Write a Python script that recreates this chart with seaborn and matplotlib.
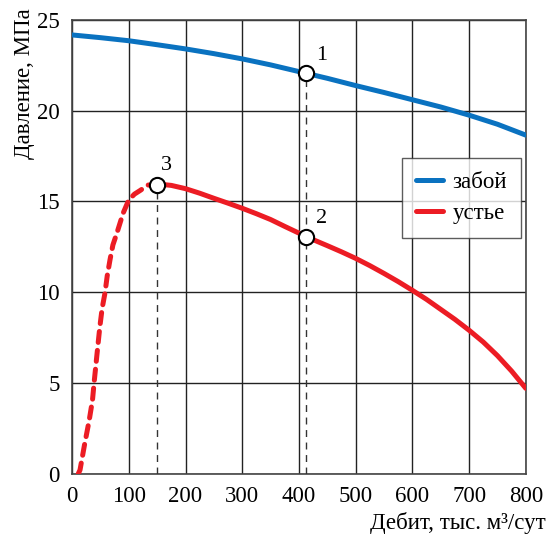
import matplotlib
matplotlib.use("Agg")
import matplotlib.pyplot as plt
import seaborn as sns
import pandas as pd

# Забой (bottom-hole pressure)
zaboy_q = [0, 50, 100, 150, 200, 250, 300, 350, 400, 450, 500, 550, 600, 650, 700, 750, 800]
zaboy_p = [24.17, 24.02, 23.85, 23.63, 23.4, 23.14, 22.85, 22.52, 22.15, 21.78, 21.38,
           21.0, 20.6, 20.2, 19.75, 19.25, 18.65]

# Устье (wellhead), solid part
ustye_q = [149, 160, 175, 200, 225, 250, 275, 300, 325, 350, 375, 400, 413, 450, 475, 500,
           525, 550, 575, 600, 625, 650, 675, 700, 725, 750, 775, 800]
ustye_p = [15.9, 15.93, 15.88, 15.7, 15.45, 15.17, 14.9, 14.62, 14.32, 14.0, 13.62, 13.25,
           13.05, 12.56, 12.22, 11.86, 11.46, 11.03, 10.58, 10.1, 9.6, 9.05, 8.5, 7.9, 7.25,
           6.5, 5.65, 4.7]

# Устье, unstable (dashed) part
unst_q = [11, 14, 22, 30, 36, 39, 44, 49, 53, 58, 62, 67, 72, 79, 85, 90, 100, 110, 120, 134, 149]
unst_p = [0.0, 0.2, 1.6, 2.9, 4.05, 5.06, 6.6, 8.1, 9.1, 9.95, 10.9, 11.8, 12.6, 13.25, 13.85,
          14.35, 15.08, 15.4, 15.6, 15.9, 15.9]

# marked points
pt_labels = ["1", "2", "3"]
pt_q = [413, 413, 149]
pt_p = [22.05, 13.05, 15.9]

blue = "#0a72c0"
red = "#ec1c24"

sns.set_theme(style="white")
plt.rcParams["font.family"] = ["Liberation Serif", "DejaVu Serif"]
plt.rcParams["text.color"] = "black"
plt.rcParams["xtick.color"] = "black"
plt.rcParams["ytick.color"] = "black"
plt.rcParams["axes.labelcolor"] = "black"

fig = plt.figure(figsize=(5.46, 5.37), dpi=100)
ax = fig.add_axes([0.132, 0.118, 0.831, 0.845])

df_z = pd.DataFrame({"q": zaboy_q, "p": zaboy_p})
df_u = pd.DataFrame({"q": ustye_q, "p": ustye_p})
df_d = pd.DataFrame({"q": unst_q, "p": unst_p})

# dashed verticals from points 1 and 3
for q, p in [(pt_q[0], pt_p[0]), (pt_q[2], pt_p[2])]:
    ax.plot([q, q], [0, p], color="#333333", lw=1.0, ls=(0, (5, 4)), zorder=3)

sns.lineplot(data=df_z, x="q", y="p", ax=ax, color=blue, lw=3.6, label="забой", zorder=4)
sns.lineplot(data=df_u, x="q", y="p", ax=ax, color=red, lw=3.6, label="устье", zorder=4)
sns.lineplot(data=df_d, x="q", y="p", ax=ax, color=red, lw=3.6, zorder=4,
             linestyle=(0, (2.2, 1.6)), dash_capstyle="round")

ax.scatter(pt_q, pt_p, s=120, facecolor="white", edgecolor="black", linewidth=1.5, zorder=6)
offsets = [(7, 6), (7, 6), (3, 7)]
for lab, q, p, off in zip(pt_labels, pt_q, pt_p, offsets):
    ax.annotate(lab, (q, p), xytext=off, textcoords="offset points", fontsize=16,
                ha="left", va="bottom")

ax.set_xlim(0, 800)
ax.set_ylim(0, 25)
ax.set_xticks(range(0, 801, 100))
ax.set_yticks(range(0, 26, 5))
ax.grid(True, color="#222222", lw=1.0)
for s in ax.spines.values():
    s.set_color("#444444")
    s.set_linewidth(1.2)
ax.tick_params(labelsize=16.5, length=0, pad=9)

ax.set_xlabel("Дебит, тыс. м³/сут", fontsize=16.5)
ax.xaxis.set_label_coords(1.045, -0.085)
ax.xaxis.label.set_ha("right")
ax.set_ylabel("Давление, МПа", fontsize=16.5)
ax.yaxis.set_label_coords(-0.105, 1.025)
ax.yaxis.label.set_va("center")
ax.yaxis.label.set_ha("right")

leg = ax.legend(loc="upper left", bbox_to_anchor=(0.727, 0.696), borderaxespad=0,
                fontsize=16.5, frameon=True, fancybox=False, edgecolor="#333333",
                handlelength=1.2, borderpad=0.6, labelspacing=0.45, handletextpad=0.4)
leg.get_frame().set_linewidth(1.0)

fig.savefig("out.png", dpi=100)
